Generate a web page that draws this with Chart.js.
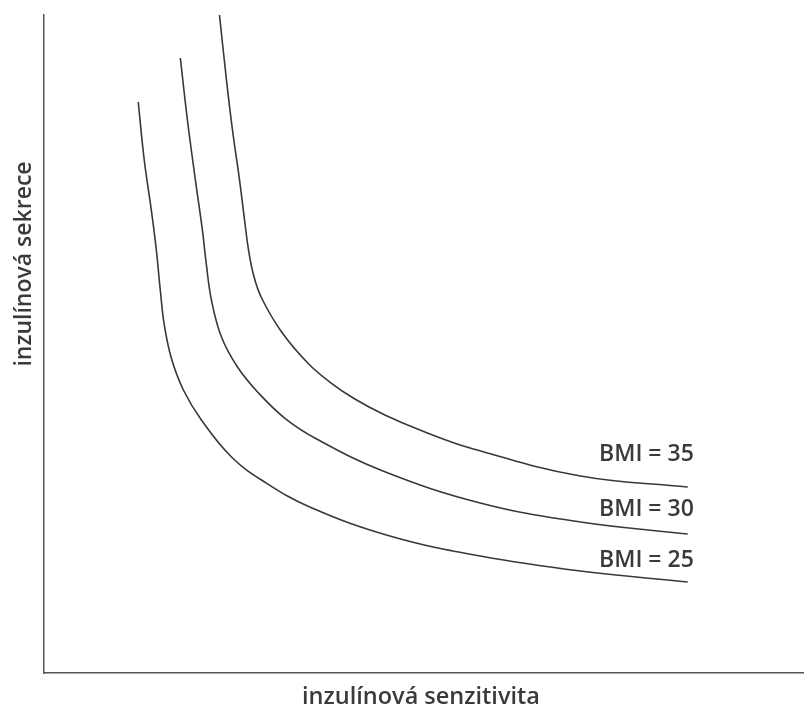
<!DOCTYPE html>
<html lang="cs">
<head>
<meta charset="UTF-8">
<title>Inzulínová sekrece a senzitivita</title>
<script src="https://cdn.jsdelivr.net/npm/chart.js"></script>
<style>
  html, body { margin: 0; padding: 0; background: #fff; }
  #wrap { width: 804px; height: 710px; }
</style>
</head>
<body>
<div id="wrap"><canvas id="c"></canvas></div>
<script>
// curves (arbitrary units, 0..100 on both axes)
const bmi25 = [
  {x: 12.40, y: 86.78}, {x: 13.19, y: 77.96}, {x: 14.12, y: 70.36}, {x: 14.78, y: 64.29},
  {x: 15.30, y: 58.21}, {x: 15.83, y: 52.89}, {x: 16.75, y: 47.87}, {x: 18.34, y: 43.01},
  {x: 20.71, y: 38.45}, {x: 24.67, y: 32.83}, {x: 29.02, y: 29.03}, {x: 34.96, y: 25.23},
  {x: 45.51, y: 20.82}, {x: 57.39, y: 17.78}, {x: 70.58, y: 15.50}, {x: 84.70, y: 13.83}
];
const bmi30 = [
  {x: 17.94, y: 93.47}, {x: 18.87, y: 84.04}, {x: 19.92, y: 74.92}, {x: 20.84, y: 67.33},
  {x: 21.37, y: 62.01}, {x: 22.03, y: 56.69}, {x: 23.35, y: 51.06}, {x: 25.46, y: 46.50},
  {x: 28.10, y: 42.71}, {x: 31.66, y: 38.75}, {x: 35.88, y: 35.56}, {x: 44.59, y: 30.70},
  {x: 57.39, y: 25.84}, {x: 70.58, y: 22.95}, {x: 84.70, y: 21.12}
];
const bmi35 = [
  {x: 23.09, y: 100}, {x: 24.01, y: 90.12}, {x: 24.80, y: 82.52}, {x: 25.73, y: 74.92},
  {x: 26.39, y: 68.84}, {x: 26.91, y: 64.29}, {x: 27.57, y: 60.49}, {x: 28.63, y: 56.99},
  {x: 31.27, y: 51.82}, {x: 34.70, y: 47.11}, {x: 37.60, y: 44.22}, {x: 40.90, y: 41.64},
  {x: 44.85, y: 39.21}, {x: 49.47, y: 36.93}, {x: 56.07, y: 34.19}, {x: 70.58, y: 29.94},
  {x: 84.70, y: 28.27}
];
const curveLabels = ['BMI = 25', 'BMI = 30', 'BMI = 35'];
const labelAt = [{x: 85.5, y: 16.1}, {x: 85.5, y: 23.9}, {x: 85.5, y: 32.2}];
const xTitle = 'inzulínová senzitivita';
const yTitle = 'inzulínová sekrece';

const ink = '#3a3a3a';

// curve labels and axis titles
const textPlugin = {
  id: 'texts',
  afterDraw(chart) {
    const ctx = chart.ctx;
    const xs = chart.scales.x, ys = chart.scales.y;
    ctx.save();
    ctx.fillStyle = ink;
    ctx.font = '600 23px "Open Sans", sans-serif';
    ctx.textAlign = 'right';
    ctx.textBaseline = 'alphabetic';
    curveLabels.forEach((t, i) => {
      ctx.fillText(t, xs.getPixelForValue(labelAt[i].x), ys.getPixelForValue(labelAt[i].y));
    });
    ctx.font = '600 23.5px "Open Sans", sans-serif';
    ctx.textAlign = 'center';
    ctx.fillText(xTitle, 421, 704);
    ctx.font = '600 23px "Open Sans", sans-serif';
    ctx.translate(31, 264);
    ctx.rotate(-Math.PI / 2);
    ctx.fillText(yTitle, 0, 0);
    ctx.restore();
  }
};

const line = (data) => ({
  data: data,
  showLine: true,
  borderColor: '#383838',
  borderWidth: 1.6,
  pointRadius: 0,
  tension: 0.4,
  fill: false
});

const axis = {
  type: 'linear', min: 0, max: 100,
  ticks: { display: false, padding: 0 },
  grid: { display: false, drawTicks: false, tickLength: 0 },
  border: { display: true, color: '#555', width: 1.5 }
};

new Chart(document.getElementById('c'), {
  type: 'scatter',
  data: {
    datasets: [line(bmi25), line(bmi30), line(bmi35)]
  },
  options: {
    responsive: true,
    maintainAspectRatio: false,
    animation: false,
    events: [],
    clip: false,
    layout: { padding: { left: 44, top: 15, right: 0, bottom: 37 } },
    plugins: { legend: { display: false }, tooltip: { enabled: false } },
    scales: { x: axis, y: axis }
  },
  plugins: [textPlugin]
});
</script>
</body>
</html>
